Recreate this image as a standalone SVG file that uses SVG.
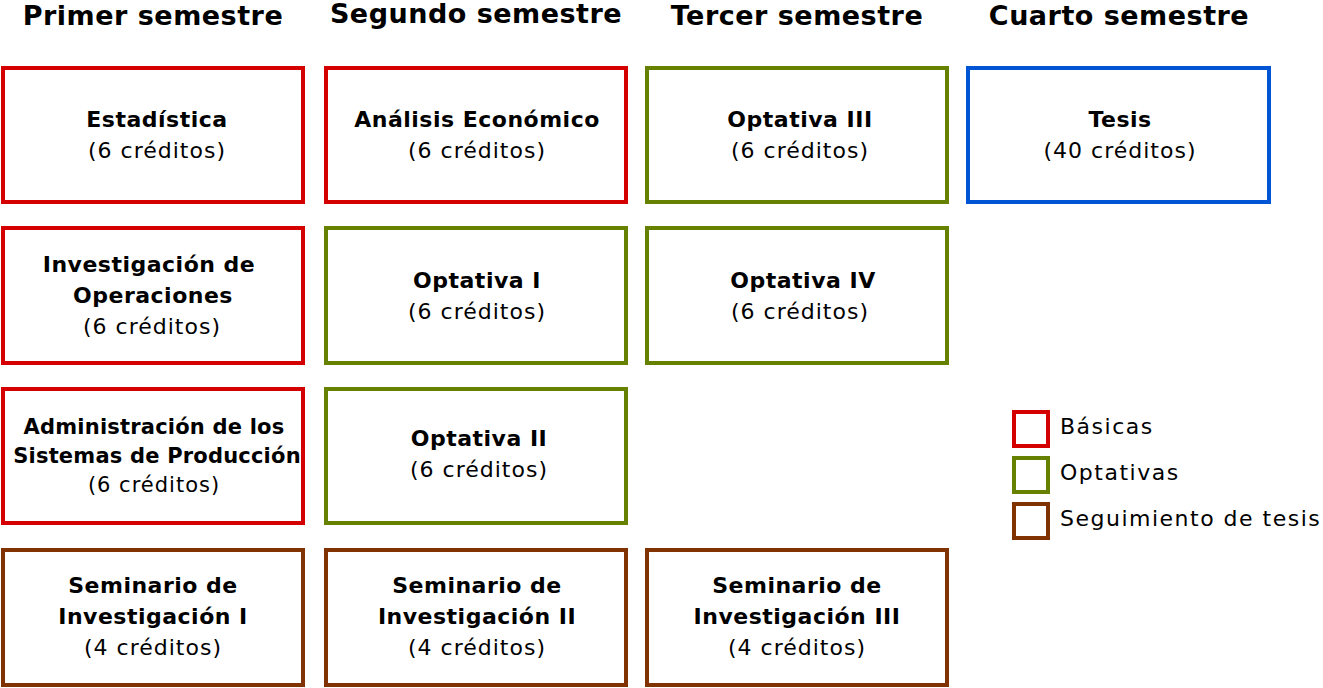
<svg xmlns="http://www.w3.org/2000/svg" width="1323" height="688" viewBox="0 0 1323 688">
<style>
.box{fill:#fff;stroke-width:4}
.b{stroke:#d40000}.o{stroke:#668000}.s{stroke:#803300}.t{stroke:#0055d4}
text{font-family:"DejaVu Sans",sans-serif;fill:#000;text-anchor:middle}
.h{font-size:27px;font-weight:600;letter-spacing:0.5px}
.n{font-size:22px;font-weight:600;letter-spacing:0.5px}
.c{font-size:22px;font-weight:400;letter-spacing:1px}
.sm{font-size:21px;letter-spacing:0.2px}
.cs{font-size:21px;letter-spacing:1px}
.lg{font-size:22px;font-weight:400;letter-spacing:1.5px;text-anchor:start}
</style>
<rect width="1323" height="688" fill="#fff"/>
<g id="headers">
<text class="h" x="153" y="25">Primer semestre</text>
<text class="h" x="476" y="23">Segundo semestre</text>
<text class="h" x="797" y="25">Tercer semestre</text>
<text class="h" x="1119" y="25">Cuarto semestre</text>
</g>
<g id="n-estadistica"><rect class="box b" x="3" y="68" width="300" height="134"/><text class="n" x="157" y="127">Estadística</text><text class="c" x="157" y="158">(6 créditos)</text></g>
<g id="n-invop"><rect class="box b" x="3" y="228" width="300" height="135"/><text class="n" x="149" y="272">Investigación de</text><text class="n" x="153" y="303">Operaciones</text><text class="c" x="152" y="334">(6 créditos)</text></g>
<g id="n-admin"><rect class="box b" x="3" y="389" width="300" height="134"/><text class="n sm" x="154" y="434">Administración de los</text><text class="n sm" x="157" y="463">Sistemas de Producción</text><text class="c cs" x="154" y="492">(6 créditos)</text></g>
<g id="n-sem1"><rect class="box s" x="3" y="550" width="300" height="135"/><text class="n" x="153" y="593">Seminario de</text><text class="n" x="153" y="624">Investigación I</text><text class="c" x="153" y="655">(4 créditos)</text></g>

<g id="n-analisis"><rect class="box b" x="326" y="68" width="300" height="134"/><text class="n" x="477" y="127">Análisis Económico</text><text class="c" x="477" y="158">(6 créditos)</text></g>
<g id="n-opt1"><rect class="box o" x="326" y="228" width="300" height="135"/><text class="n" x="477" y="288">Optativa I</text><text class="c" x="477" y="319">(6 créditos)</text></g>
<g id="n-opt2"><rect class="box o" x="326" y="389" width="300" height="134"/><text class="n" x="479" y="446">Optativa II</text><text class="c" x="479" y="477">(6 créditos)</text></g>
<g id="n-sem2"><rect class="box s" x="326" y="550" width="300" height="135"/><text class="n" x="477" y="593">Seminario de</text><text class="n" x="477" y="624">Investigación II</text><text class="c" x="477" y="655">(4 créditos)</text></g>

<g id="n-opt3"><rect class="box o" x="647" y="68" width="300" height="134"/><text class="n" x="800" y="127">Optativa III</text><text class="c" x="800" y="158">(6 créditos)</text></g>
<g id="n-opt4"><rect class="box o" x="647" y="228" width="300" height="135"/><text class="n" x="803" y="288">Optativa IV</text><text class="c" x="800" y="319">(6 créditos)</text></g>
<g id="n-sem3"><rect class="box s" x="647" y="550" width="300" height="135"/><text class="n" x="797" y="593">Seminario de</text><text class="n" x="797" y="624">Investigación III</text><text class="c" x="797" y="655">(4 créditos)</text></g>

<g id="n-tesis"><rect class="box t" x="968" y="68" width="301" height="134"/><text class="n" x="1120" y="127">Tesis</text><text class="c" x="1120" y="158">(40 créditos)</text></g>

<g id="legend">
<rect class="box b" x="1014" y="412" width="34" height="34"/><text class="lg" x="1060" y="434">Básicas</text>
<rect class="box o" x="1014" y="458" width="34" height="34"/><text class="lg" x="1060" y="480">Optativas</text>
<rect class="box s" x="1014" y="504" width="34" height="34"/><text class="lg" x="1060" y="526">Seguimiento de tesis</text>
</g>
<g id="connectors"></g>
</svg>
